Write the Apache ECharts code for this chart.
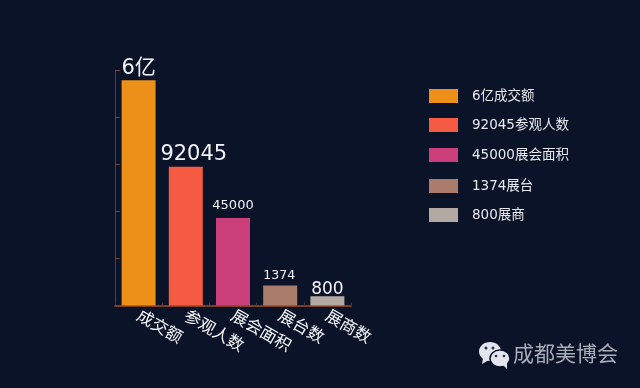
<!DOCTYPE html>
<html><head><meta charset="utf-8">
<style>html,body{margin:0;padding:0;background:#0b1328}#c{width:640px;height:388px}</style>
<script src="https://cdn.jsdelivr.net/npm/echarts@6/dist/echarts.min.js"></script>
</head><body><div id="c"></div>
<script>
const categories = ['成交额','参观人数','展会面积','展台数','展商数'];
const legendNames = ['6亿成交额','92045参观人数','45000展会面积','1374展台','800展商'];
const barHeights = [95.7, 58.9, 37.2, 8.5, 3.9];
const valueLabels = ['6亿','92045','45000','1374','800'];
const labelSizes = [21, 21, 13, 12.5, 17];
const labelOffsets = [[0,1],[8,3],[0,-1],[-1,2],[0,7]];
const colors = ['#ec9019','#f55a42','#cb407a','#a97c6c','#b2a9a3'];
const legendTops = [89, 118, 148, 179, 208];
const watermark = '成都美博会';
const FONT = '"DejaVu Sans","Noto Sans CJK SC",sans-serif';

const chart = echarts.init(document.getElementById('c'), null, {renderer:'canvas'});
chart.setOption({
  animation:false,
  backgroundColor:'#0b1328',
  textStyle:{fontFamily:FONT},
  grid:{left:115,right:289,top:70,bottom:82.5},
  legend: legendNames.map((n,i)=>({
    data:[n], left:429, top:legendTops[i], orient:'vertical', padding:0,
    itemWidth:29,itemHeight:14,itemGap:0,
    icon:'rect',
    textStyle:{color:'#e8eaef',fontSize:13.5,fontFamily:FONT,padding:[1,0,0,9]},
    selectedMode:false
  })),
  xAxis:{type:'category',data:categories,
    axisLine:{lineStyle:{color:'#7d3d22',width:2}},
    axisTick:{show:true,inside:true,length:3,lineStyle:{color:'#4a3530'}},
    axisLabel:{rotate:-30,interval:0,color:'#f5f6f8',fontSize:16.5,margin:8,fontFamily:'"Noto Sans CJK SC",sans-serif'}},
  yAxis:{type:'value',min:0,max:100,interval:20,
    axisLine:{show:true,lineStyle:{color:'#6a3530',width:1}},
    axisTick:{show:true,inside:true,length:5,lineStyle:{color:'#7a3f38'}},
    axisLabel:{show:false},splitLine:{show:false}},
  series: legendNames.map((n,i)=>({
    name:n,type:'bar',stack:'all',barWidth:34,
    itemStyle:{color:colors[i]},
    label:{show:true,position:'top',distance:i===0?2:5,offset:labelOffsets[i],color:'#f2f3f6',fontSize:labelSizes[i],
      fontFamily:FONT,formatter:()=>valueLabels[i]},
    data:categories.map((c,j)=>j===i?barHeights[i]:null)
  })),
  graphic:[
    {type:'ellipse',shape:{cx:490,cy:351.5,rx:11,ry:9.5},style:{fill:'#e3e5ee'}},
    {type:'polygon',shape:{points:[[483,358],[482,364],[489,360]]},style:{fill:'#e3e5ee'}},
    {type:'ellipse',shape:{cx:500,cy:358.5,rx:10,ry:8.5},style:{fill:'#e3e5ee',stroke:'#0b1328',lineWidth:1.5}},
    {type:'polygon',shape:{points:[[503,365],[507,369],[507,362]]},style:{fill:'#e3e5ee'}},
    {type:'circle',shape:{cx:486,cy:348,r:1.5},style:{fill:'#2a3046'}},
    {type:'circle',shape:{cx:493,cy:348,r:1.5},style:{fill:'#2a3046'}},
    {type:'circle',shape:{cx:496,cy:356,r:1.3},style:{fill:'#2a3046'}},
    {type:'circle',shape:{cx:504,cy:356,r:1.3},style:{fill:'#2a3046'}},
    {type:'text',left:513,top:343,style:{text:watermark,fill:'#a9adb8',fontSize:21,fontFamily:'"Noto Sans CJK SC",sans-serif'}}
  ]
});
</script></body></html>
